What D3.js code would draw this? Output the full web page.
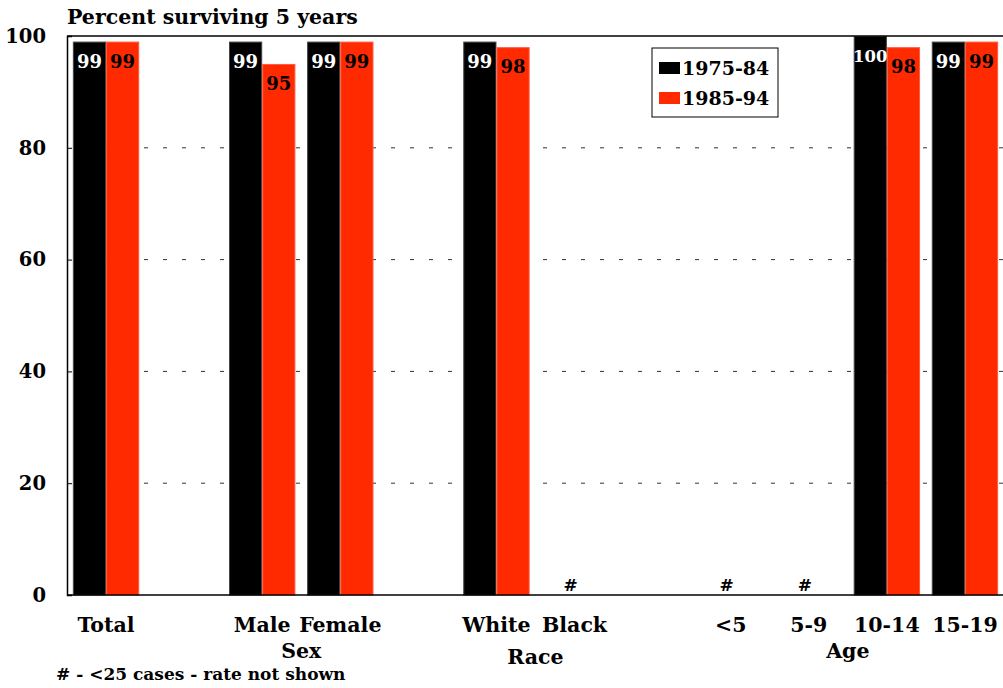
<!DOCTYPE html>
<html>
<head>
<meta charset="utf-8">
<script src="https://cdn.jsdelivr.net/npm/d3@7"></script>
<style>
  html, body { margin: 0; padding: 0; background: #fff; }
  svg { display: block; }
  text { font-family: "DejaVu Serif", "Liberation Serif", serif; font-weight: bold; }
</style>
</head>
<body>
<svg id="chart" width="1003" height="688"></svg>
<script>
// Slots along the x axis (gap slots separate the groups)
const categories = ["Total", "gap1", "Male", "Female", "gap2", "White", "Black", "gap3", "<5", "5-9", "10-14", "15-19"];
const categoryLabels = ["Total", "", "Male", "Female", "", "White", "Black", "", "<5", "5-9", "10-14", "15-19"];
const seriesNames = ["1975-84", "1985-94"];
// null = fewer than 25 cases, rate not shown
const values1975 = [99, null, 99, 99, null, 99, null, null, null, null, 100, 99];
const values1985 = [99, null, 95, 99, null, 98, null, null, null, null, 98, 99];
const suppressed = ["Black", "<5", "5-9"];
const groups = [
  { name: "Sex", from: "Male", to: "Female" },
  { name: "Race", from: "White", to: "Black" },
  { name: "Age", from: "<5", to: "15-19" }
];
const yTicks = [0, 20, 40, 60, 80, 100];
const colors = ["#000000", "#ff2a00"];

const svg = d3.select("#chart");
const margin = { left: 67, right: -1, top: 36, bottom: 93 };
const W = 1003, H = 688;
const x0 = margin.left, x1 = W - margin.right;
const yTop = margin.top, yBot = H - margin.bottom;

const x = d3.scaleBand().domain(categories).range([x0, x1]).paddingInner(0.15).paddingOuter(0.075);
const xs = d3.scaleBand().domain(seriesNames).range([0, x.bandwidth()]);
const y = d3.scaleLinear().domain([0, 100]).range([yBot, yTop]);

// dashed gridlines
svg.append("g").selectAll("line")
  .data(yTicks.filter(t => t > 0 && t < 100))
  .join("line")
  .attr("x1", x0 + 6).attr("x2", x1)
  .attr("y1", d => y(d)).attr("y2", d => y(d))
  .attr("stroke", "#333").attr("stroke-width", 1)
  .attr("stroke-dasharray", "4,15")
  .attr("stroke-dashoffset", 5);

// bars with value labels
const series = [values1975, values1985];
series.forEach((vals, si) => {
  const data = categories.map((c, i) => ({ c, v: vals[i] })).filter(d => d.v != null);
  const g = svg.append("g");
  g.selectAll("rect").data(data).join("rect")
    .attr("x", d => x(d.c) + xs(seriesNames[si]) + 0.5)
    .attr("y", d => y(d.v) + 0.5)
    .attr("width", xs.bandwidth() - 1)
    .attr("height", d => y(0) - y(d.v) - 0.5)
    .attr("fill", colors[si])
    .attr("stroke", si === 0 ? "#444" : "#ff5a3a")
    .attr("stroke-width", 1);
  g.selectAll("text").data(data).join("text")
    .attr("x", d => x(d.c) + xs(seriesNames[si]) + xs.bandwidth() / 2)
    .attr("y", d => y(d.v) + 26)
    .attr("text-anchor", "middle")
    .attr("font-size", d => d.v >= 100 ? 16.5 : 18)
    .attr("fill", si === 0 ? "#fff" : "#000")
    .text(d => d.v);
});

// suppressed markers
svg.append("g").selectAll("text").data(suppressed).join("text")
  .attr("x", d => x(d) + x.bandwidth() / 2 - 4)
  .attr("y", yBot - 4)
  .attr("text-anchor", "middle")
  .attr("font-size", 17)
  .text("#");

// frame: top and bottom
svg.append("line").attr("x1", x0).attr("x2", W).attr("y1", yTop).attr("y2", yTop).attr("stroke", "#000").attr("stroke-width", 1.5);
svg.append("line").attr("x1", x0).attr("x2", W).attr("y1", yBot).attr("y2", yBot).attr("stroke", "#000").attr("stroke-width", 1.5);

// y axis
const yAxis = d3.axisLeft(y).tickValues(yTicks).tickSize(-5).tickPadding(21);
const ya = svg.append("g").attr("transform", `translate(${x0},0)`).call(yAxis);
ya.select(".domain").attr("stroke", "#000").attr("stroke-width", 1.5);
ya.selectAll(".tick line").attr("stroke", "#000");
ya.selectAll(".tick text").attr("font-size", 19.5).attr("font-family", "DejaVu Serif").attr("font-weight", "bold").attr("fill", "#000");

// x category labels
svg.append("g").selectAll("text")
  .data(categories.map((c, i) => ({ c, label: categoryLabels[i] })).filter(d => d.label))
  .join("text")
  .attr("x", d => x(d.c) + x.bandwidth() / 2)
  .attr("y", 632)
  .attr("text-anchor", "middle")
  .attr("font-size", 20.5)
  .text(d => d.label);

// group labels
svg.append("g").selectAll("text").data(groups).join("text")
  .attr("x", d => (x(d.from) + x(d.to) + x.bandwidth()) / 2)
  .attr("y", d => d.name === "Race" ? 664 : 658)
  .attr("text-anchor", "middle")
  .attr("font-size", 20.5)
  .text(d => d.name);

// title
svg.append("text").attr("x", 67).attr("y", 24).attr("font-size", 20.5).text("Percent surviving 5 years");

// footnote
svg.append("text").attr("x", 56).attr("y", 680).attr("font-size", 17).text("# - <25 cases - rate not shown");

// legend
const lg = svg.append("g").attr("transform", "translate(652,48)");
lg.append("rect").attr("width", 126).attr("height", 69).attr("fill", "#fff").attr("stroke", "#000").attr("stroke-width", 1);
seriesNames.forEach((s, i) => {
  lg.append("rect").attr("x", 7).attr("y", 14 + i * 30).attr("width", 21).attr("height", 12).attr("fill", colors[i]);
  lg.append("text").attr("x", 30).attr("y", 27 + i * 30).attr("font-size", 19).text(s);
});
</script>
</body>
</html>
